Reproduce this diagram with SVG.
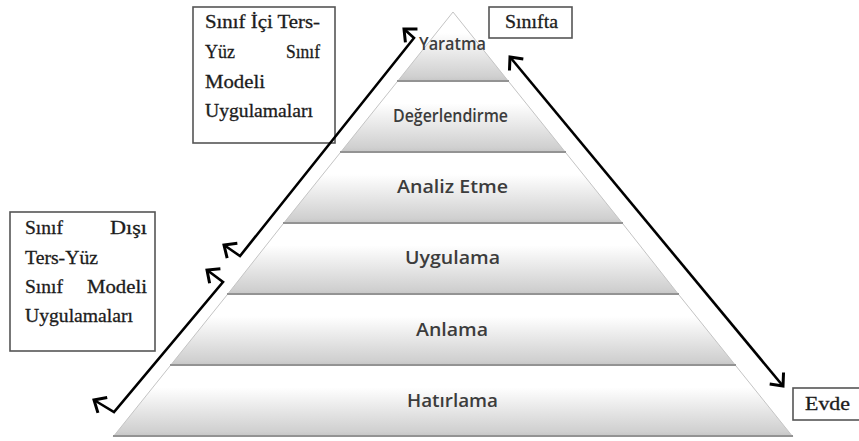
<svg xmlns="http://www.w3.org/2000/svg" width="859" height="441" viewBox="0 0 859 441">
<style>
.band{fill:url(#bg);stroke:none}
.edge{stroke:#c4c4c4;stroke-width:1;fill:none}
.base{stroke:#939393;stroke-width:2;fill:none}
.lbl{font-family:"Open Sans","Liberation Sans",sans-serif;font-weight:600;fill:#3c3c3c;font-size:18px}
.box{fill:#fff;stroke:#555;stroke-width:1.6}
.bt{font-family:"Liberation Serif","Times New Roman",serif;font-size:18.5px;fill:#1c1c1c;stroke:#1c1c1c;stroke-width:0.3}
.conn{fill:none;stroke:#000;stroke-width:2.6;stroke-linejoin:miter;marker-start:url(#ah);marker-end:url(#ah)}
</style>
<defs>
<linearGradient id="bg" x1="0" y1="0" x2="0" y2="1">
<stop offset="0" stop-color="#ffffff"/>
<stop offset="0.3" stop-color="#ffffff"/>
<stop offset="0.92" stop-color="#d0d0d0"/>
<stop offset="1" stop-color="#c4c4c4"/>
</linearGradient>
<marker id="ah" markerUnits="userSpaceOnUse" markerWidth="24" markerHeight="24" viewBox="-12 -12 24 24" refX="0" refY="0" orient="auto-start-reverse" overflow="visible">
<path d="M-10,-9 L0,0 L-10,9" fill="none" stroke="#000" stroke-width="3"/>
</marker>
</defs>
<rect width="859" height="441" fill="#fff"/>

<g id="yaratma">
<polygon class="band" points="453,12 509,82 397,82"/>
<polyline class="edge" points="397,82 453,12 509,82"/>
<line class="base" x1="397" y1="81" x2="509" y2="81"/>
<text class="lbl" x="419" y="50" font-size="15" textLength="67" lengthAdjust="spacingAndGlyphs">Yaratma</text>
</g>
<g id="degerlendirme">
<polygon class="band" points="397,82 509,82 566,153 340,153"/>
<line class="edge" x1="397" y1="82" x2="340" y2="153"/>
<line class="edge" x1="509" y1="82" x2="566" y2="153"/>
<line class="base" x1="340" y1="152" x2="566" y2="152"/>
<text class="lbl" x="393" y="122" font-size="15.5" textLength="115" lengthAdjust="spacingAndGlyphs">Değerlendirme</text>
</g>
<g id="analiz">
<polygon class="band" points="340,153 566,153 623,224 283,224"/>
<line class="edge" x1="340" y1="153" x2="283" y2="224"/>
<line class="edge" x1="566" y1="153" x2="623" y2="224"/>
<line class="base" x1="283" y1="223" x2="623" y2="223"/>
<text class="lbl" x="397" y="193" textLength="111" lengthAdjust="spacingAndGlyphs">Analiz Etme</text>
</g>
<g id="uygulama">
<polygon class="band" points="283,224 623,224 679,295 227,295"/>
<line class="edge" x1="283" y1="224" x2="227" y2="295"/>
<line class="edge" x1="623" y1="224" x2="679" y2="295"/>
<line class="base" x1="227" y1="294" x2="679" y2="294"/>
<text class="lbl" x="405" y="264" textLength="95" lengthAdjust="spacingAndGlyphs">Uygulama</text>
</g>
<g id="anlama">
<polygon class="band" points="227,295 679,295 736,366 170,366"/>
<line class="edge" x1="227" y1="295" x2="170" y2="366"/>
<line class="edge" x1="679" y1="295" x2="736" y2="366"/>
<line class="base" x1="170" y1="365" x2="736" y2="365"/>
<text class="lbl" x="416" y="336" textLength="72" lengthAdjust="spacingAndGlyphs">Anlama</text>
</g>
<g id="hatirlama">
<polygon class="band" points="170,366 736,366 793,437 113,437"/>
<line class="edge" x1="170" y1="366" x2="113" y2="437"/>
<line class="edge" x1="736" y1="366" x2="793" y2="437"/>
<line class="base" x1="113" y1="436" x2="793" y2="436"/>
<text class="lbl" x="407" y="407" textLength="91" lengthAdjust="spacingAndGlyphs">Hatırlama</text>
</g>

<g id="box-sinif-ici">
<rect class="box" x="193" y="7" width="142" height="136"/>
<text class="bt" x="205" y="28" textLength="115" lengthAdjust="spacingAndGlyphs">Sınıf İçi Ters-</text>
<text class="bt" x="205" y="58" textLength="30" lengthAdjust="spacingAndGlyphs">Yüz</text>
<text class="bt" x="286" y="58" textLength="34" lengthAdjust="spacingAndGlyphs">Sınıf</text>
<text class="bt" x="205" y="88" textLength="60" lengthAdjust="spacingAndGlyphs">Modeli</text>
<text class="bt" x="205" y="117" textLength="108" lengthAdjust="spacingAndGlyphs">Uygulamaları</text>
</g>
<g id="box-sinif-disi">
<rect class="box" x="10" y="212" width="145" height="139"/>
<text class="bt" x="25" y="234" textLength="38" lengthAdjust="spacingAndGlyphs">Sınıf</text>
<text class="bt" x="110" y="234" textLength="37" lengthAdjust="spacingAndGlyphs">Dışı</text>
<text class="bt" x="25" y="264" textLength="73" lengthAdjust="spacingAndGlyphs">Ters-Yüz</text>
<text class="bt" x="25" y="293" textLength="38" lengthAdjust="spacingAndGlyphs">Sınıf</text>
<text class="bt" x="87" y="293" textLength="60" lengthAdjust="spacingAndGlyphs">Modeli</text>
<text class="bt" x="25" y="322" textLength="108" lengthAdjust="spacingAndGlyphs">Uygulamaları</text>
</g>
<g id="box-sinifta">
<rect class="box" x="489" y="7" width="83" height="31" stroke-width="2"/>
<text class="bt" x="505" y="28" textLength="53" lengthAdjust="spacingAndGlyphs">Sınıfta</text>
</g>
<g id="box-evde">
<rect class="box" x="793" y="388" width="70" height="32" stroke-width="2"/>
<text class="bt" x="805" y="410" textLength="45" lengthAdjust="spacingAndGlyphs">Evde</text>
</g>

<g id="connectors">
<path class="conn" d="M224,245 L240,256 L414,38 L404,29"/>
<path class="conn" d="M207,270 L223,282 L114,412 L94,400"/>
<path class="conn" d="M510,57 L783,386"/>
</g>
</svg>
